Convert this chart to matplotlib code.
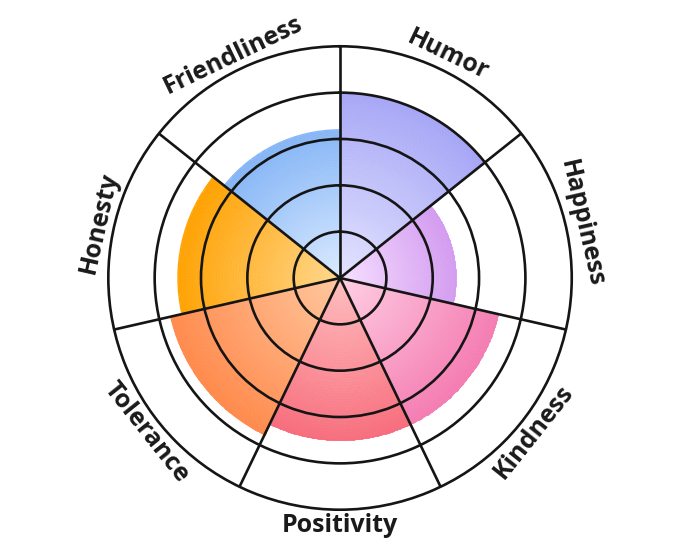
import numpy as np
import matplotlib.pyplot as plt
from matplotlib.colors import LinearSegmentedColormap

# sectors go clockwise from 12 o'clock
categories = ['Humor', 'Happiness', 'Kindness', 'Positivity', 'Tolerance', 'Honesty', 'Friendliness']
values = [4.0, 2.5, 3.5, 3.5, 3.75, 3.5, 3.2]
inner_colors = ['#e4e4ff', '#f6e0ff', '#ffd0e4', '#ffc0c0', '#ffc8a0', '#ffd890', '#dcebff']
outer_colors = ['#a6a6f6', '#d49cf0', '#f47cb2', '#f76c7c', '#ff8a4c', '#ffa200', '#86b6f6']
ring_ticks = [1, 2, 3, 4]
r_max = 5

plt.rcParams['font.family'] = ['Open Sans', 'DejaVu Sans']

n = len(categories)
width = 2 * np.pi / n

fig = plt.figure(figsize=(6.8, 5.57), dpi=100)
ax = fig.add_axes([0.1593, 0.0849, 0.6815, 0.832], projection='polar')
ax.set_theta_zero_location('N')
ax.set_theta_direction(-1)

# radial gradient in each wedge
for i, (v, c0, c1) in enumerate(zip(values, inner_colors, outer_colors)):
    th = np.linspace(i * width, (i + 1) * width, 90)
    r = np.linspace(0, v, 60)
    T, R = np.meshgrid(th, r)
    C = (R[:-1, :-1] + R[1:, 1:]) / 2
    cmap = LinearSegmentedColormap.from_list('sec%d' % i, [c0, c1])
    ax.pcolormesh(T, R, C, cmap=cmap, vmin=0, vmax=v, shading='flat',
                  edgecolors='face', linewidth=0.4, antialiased=True, zorder=1)
    # thin outline in the edge colour to smooth the outer arc
    ax.bar((i + 0.5) * width, v, width=width, color='none', edgecolor=c1,
           linewidth=0.8, zorder=1.1)

ax.set_rlim(0, r_max)
ax.set_rticks(ring_ticks)
ax.set_yticklabels([])
ax.set_xticks(np.arange(n) * width)
ax.set_xticklabels([])
ax.tick_params(length=0)
ax.set_axisbelow(False)
ax.grid(True, color='#151515', linewidth=1.9)
ax.spines['polar'].set_color('#151515')
ax.spines['polar'].set_linewidth(1.9)

# labels around the rim
for i, name in enumerate(categories):
    tc = (i + 0.5) * width
    deg = np.degrees(tc)
    if 90 < deg < 270:
        rot = 180 - deg
    else:
        rot = -deg
    ax.text(tc, 5.34, name, rotation=rot, rotation_mode='anchor',
            ha='center', va='center', fontsize=18, fontweight='bold',
            color='#1a1a1a')

fig.savefig('out.png', dpi=100, facecolor='white')
